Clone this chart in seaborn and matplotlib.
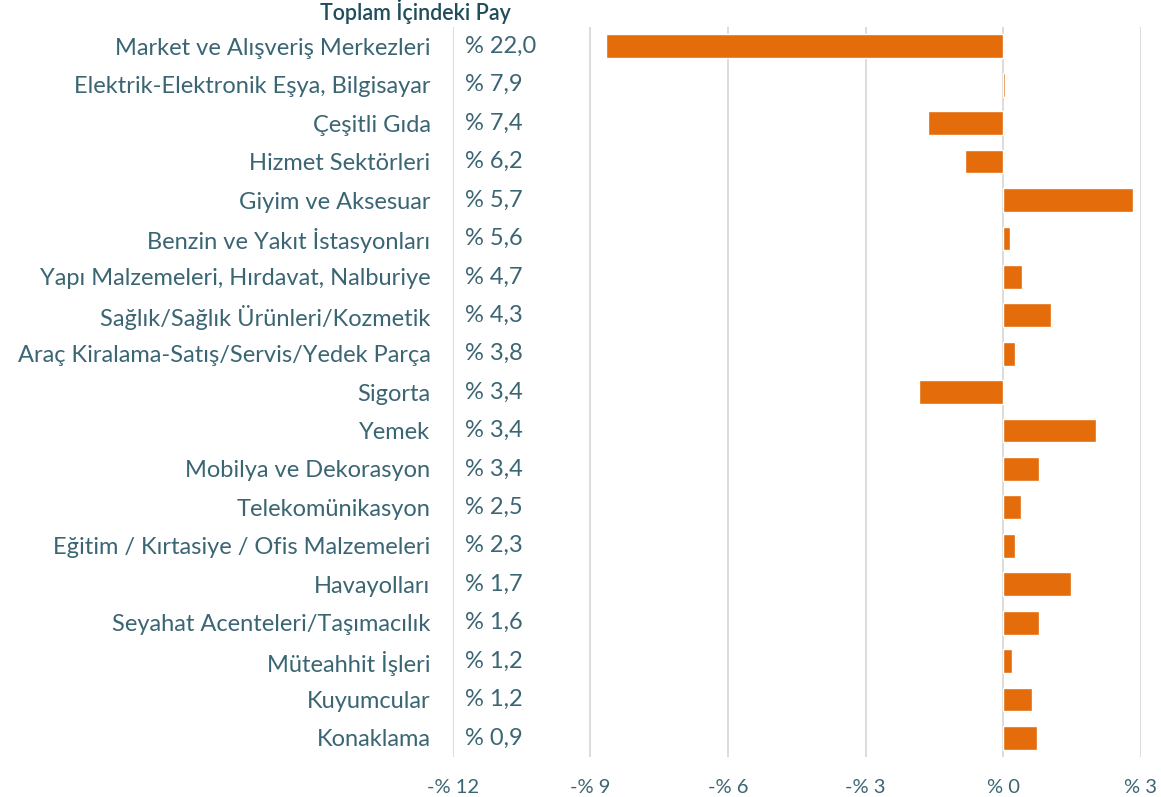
import pandas as pd
import seaborn as sns
import matplotlib.pyplot as plt

categories = [
    "Market ve Alışveriş Merkezleri", "Elektrik-Elektronik Eşya, Bilgisayar",
    "Çeşitli Gıda", "Hizmet Sektörleri", "Giyim ve Aksesuar",
    "Benzin ve Yakıt İstasyonları", "Yapı Malzemeleri, Hırdavat, Nalburiye",
    "Sağlık/Sağlık Ürünleri/Kozmetik", "Araç Kiralama-Satış/Servis/Yedek Parça",
    "Sigorta", "Yemek", "Mobilya ve Dekorasyon", "Telekomünikasyon",
    "Eğitim / Kırtasiye / Ofis Malzemeleri", "Havayolları",
    "Seyahat Acenteleri/Taşımacılık", "Müteahhit İşleri", "Kuyumcular", "Konaklama"
]
shares = ["% 22,0", "% 7,9", "% 7,4", "% 6,2", "% 5,7", "% 5,6", "% 4,7", "% 4,3",
          "% 3,8", "% 3,4", "% 3,4", "% 3,4", "% 2,5", "% 2,3", "% 1,7", "% 1,6",
          "% 1,2", "% 1,2", "% 0,9"]
values = [-8.67, 0.05, -1.64, -0.83, 2.83, 0.14, 0.41, 1.04, 0.26, -1.83,
          2.03, 0.79, 0.38, 0.26, 1.48, 0.79, 0.19, 0.63, 0.75]
xticks = [-12, -9, -6, -3, 0, 3]

df = pd.DataFrame({"kategori": categories, "deger": values})

sns.set_style("white")
plt.rcParams['font.family'] = ['Lato', 'DejaVu Sans']

text_col = "#3A6573"
fig = plt.figure(figsize=(11.61, 7.97), dpi=100)
ax = fig.add_axes([0.390, 0.050, 0.5925, 0.916])

sns.barplot(data=df, x="deger", y="kategori", color="#E46C0A", saturation=1,
            width=0.62, orient="h", ax=ax, zorder=3)

ax.set_xlim(-12, 3)
ax.set_ylim(18.5, -0.5)
ax.set_xticks(xticks)
ax.set_xticklabels([("-% " if t < 0 else "% ") + str(abs(t)) for t in xticks])
ax.grid(axis="x", color="#D9D9D9", linewidth=1.3, zorder=0)
ax.set_xlabel("")
ax.set_ylabel("")
sns.despine(ax=ax, left=True, bottom=True)
ax.tick_params(axis="both", length=0, colors=text_col)
ax.tick_params(axis="y", labelsize=17, pad=16)
ax.tick_params(axis="x", labelsize=14.5, pad=16)

for i, s in enumerate(shares):
    ax.text(-11.74, i, s, va="center", ha="left", fontsize=17, color=text_col)

fig.text(415 / 1161, 1 - 12 / 797, "Toplam İçindeki Pay", ha="center", va="center",
         fontsize=15.5, fontweight="semibold", color="#1F4D5C")

fig.savefig("out.png", dpi=100)
